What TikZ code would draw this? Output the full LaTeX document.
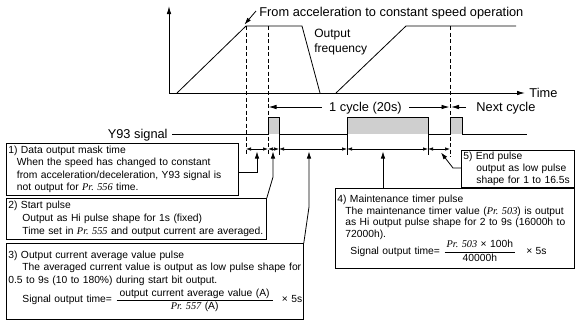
\documentclass[tikz,border=0pt]{standalone}
\usepackage{fontspec}
\usepackage{amsmath}
\setmainfont{Liberation Sans}
\newfontfamily\prfont{Liberation Serif}
\usetikzlibrary{arrows.meta}
\newcommand{\pr}[1]{{\prfont\itshape Pr.\ #1}}
\begin{document}
\begin{tikzpicture}[x=1pt,y=-1pt,
  line width=0.8pt,
  dsh/.style={line width=0.7pt, dash pattern=on 4pt off 2.5pt},
  tipA/.style={-{Latex[length=8pt,width=4.5pt]}},
  tipB/.style={-{Latex[length=7pt,width=4.5pt]}},
  dbl/.style={{Latex[length=5pt,width=3.5pt]}-{Latex[length=5pt,width=3.5pt]}, line width=0.7pt},
  big/.style={font=\fontsize{12.8}{15}\selectfont, inner sep=0pt},
  box/.style={draw, line width=0.8pt, anchor=north west, align=left, inner xsep=2pt, inner ysep=1pt},
  boxA/.style={box, font=\fontsize{10.3}{12.6}\selectfont},
  boxB/.style={box, font=\fontsize{10.3}{11.6}\selectfont},
]
\useasboundingbox (0,0) rectangle (576,322);

% axes
\coordinate (O) at (169,93);
\coordinate (ytop) at (169,6);
\coordinate (xend) at (525,93);
\draw[tipA, line width=0.9pt] (O) -- (ytop);
\draw[tipA, line width=0.9pt] (O) -- (xend);
\node[big, anchor=west] (time) at (529,93) {Time};

% output frequency curve
\coordinate (c0) at (177,93);
\coordinate (c1) at (246,26);
\coordinate (c2) at (302,26);
\coordinate (c3) at (320,93);
\coordinate (c4) at (336,93);
\coordinate (c5) at (406,26);
\coordinate (c6) at (516,26);
\draw (c0) -- (c1) -- (c2) -- (c3);
\draw (c4) -- (c5) -- (c6);

% dashed guides
\coordinate (d1t) at (246,26);  \coordinate (d1b) at (246,155);
\coordinate (d2t) at (268,26);  \coordinate (d2b) at (268,155);
\coordinate (d3t) at (450,26);  \coordinate (d3b) at (450,157);
\draw[dsh] (d1t) -- (d1b);
\draw[dsh] (d2t) -- (d2b);
\draw[dsh] (d3t) -- (d3b);

% top label
\node[big, anchor=base west] (from) at (259,16.5) {From acceleration to constant speed operation};
\coordinate (fa) at (256,11);
\coordinate (fb) at (244.5,24.5);
\draw[tipB] (fa) -- (fb);

\node[big, font=\fontsize{12}{14}\selectfont, anchor=base west] (of1) at (314,37) {Output};
\node[big, font=\fontsize{12}{14}\selectfont, anchor=base west] (of2) at (314,52) {frequency};

% cycle arrows
\node[big, anchor=base, inner xsep=7pt] (cyc) at (365.5,111.5) {1 cycle (20s)};
\coordinate (cycL) at (268.5,107);
\coordinate (cycR) at (449.5,107);
\draw[tipA] (cyc.west |- cycL) -- (cycL);
\draw[tipA] (cyc.east |- cycR) -- (cycR);
\node[big, anchor=base west] (nxt) at (476,111.5) {Next cycle};
\coordinate (nxA) at (466,107);
\coordinate (nxB) at (451,107);
\draw[tipA] (nxA) -- (nxB);

% Y93 signal
\node[big, anchor=base east] (y93) at (168,138.5) {Y93 signal};
\fill[gray!38] (268,117) rectangle (279,134);
\fill[gray!38] (347,117) rectangle (428,134);
\fill[gray!38] (450,117) rectangle (462,134);
\coordinate (s0) at (172,134);
\draw (s0) -- (268,134) -- (268,117) -- (279,117) -- (279,134) -- (347,134) -- (347,117)
      -- (428,117) -- (428,134) -- (450,134) -- (450,117) -- (462,117) -- (462,134) -- (527,134);
\draw (279,134) -- (279,155);
\draw (347,134) -- (347,155);
\draw (428,134) -- (428,155);

% interval arrows
\coordinate (a0) at (246,149);
\coordinate (a1) at (268,149);
\coordinate (a2) at (279,149);
\coordinate (a3) at (347,149);
\coordinate (a4) at (428,149);
\coordinate (a5) at (450,149);
\draw[dbl] (a0) -- (a1);
\draw[dbl] (a1) -- (a2);
\draw[dbl] (a2) -- (a3);
\draw[dbl] (a3) -- (a4);
\draw[dbl] (a4) -- (a5);

% boxes
\node[boxA, text width=228pt, minimum height=52pt] (b1) at (6,143)
 {\mbox{1) Data output mask time}\\
  \mbox{\hspace*{8.5pt}When the speed has changed to constant}\\
  \mbox{\hspace*{8.5pt}from acceleration/deceleration, Y93 signal is}\\
  \mbox{\hspace*{8.5pt}not output for \pr{556} time.}};

\node[boxA, text width=256pt, minimum height=41pt] (b2) at (6,198)
 {\mbox{2) Start pulse}\\
  \mbox{\hspace*{14pt}Output as Hi pulse shape for 1s (fixed)}\\
  \mbox{\hspace*{14pt}Time set in \pr{555} and output current are averaged.}};

\node[boxA, text width=293pt, minimum height=76pt] (b3) at (6,243)
 {\mbox{3) Output current average value pulse}\\
  \mbox{\hspace*{14pt}The averaged current value is output as low pulse shape for}\\
  \mbox{0.5 to 9s (10 to 180\%) during start bit output.}\\[2pt]
  \mbox{\hspace*{14pt}Signal output time= $\dfrac{\text{\hspace{3pt}output current average value (A)\hspace{3pt}}}{\text{\pr{557} (A)}}$\hspace{8pt}× 5s}};

\node[boxB, text width=235pt, minimum height=80pt] (b4) at (335,188)
 {\mbox{4) Maintenance timer pulse}\\
  \mbox{\hspace*{8pt}The maintenance timer value (\pr{503}) is output}\\
  \mbox{\hspace*{8pt}as Hi output pulse shape for 2 to 9s (16000h to}\\
  \mbox{\hspace*{8pt}72000h).}\\
  \mbox{\hspace*{13pt}Signal output time= $\dfrac{\text{\hspace{2pt}\pr{503} × 100h\hspace{2pt}}}{\text{40000h}}$\hspace{10pt}× 5s}};

\node[boxB, text width=109pt, minimum height=37pt] (b5) at (461,150)
 {\mbox{5) End pulse}\\
  \mbox{\hspace*{13pt}output as low pulse}\\
  \mbox{\hspace*{13pt}shape for 1 to 16.5s}};

% connectors from boxes
\coordinate (k1a) at (257,172); \coordinate (k1t) at (257,151.5);
\draw[tipB] (b1.east |- k1a) -- (k1a) -- (k1t);
\coordinate (k2a) at (273,177); \coordinate (k2t) at (273,151.5);
\draw[tipB] (b2.north east) -- (k2a) -- (k2t);
\coordinate (k3a) at (309,207); \coordinate (k3t) at (309,151.5);
\draw[tipB] (b3.north east) -- (k3a) -- (k3t);
\coordinate (k4t) at (383,151.5);
\draw[tipB] (b4.north west -| k4t) -- (k4t);
\coordinate (k5a) at (453,168); \coordinate (k5t) at (441,152.5);
\draw[tipB] (b5.west |- k5a) -- (k5a) -- (k5t);
\end{tikzpicture}
\end{document}
